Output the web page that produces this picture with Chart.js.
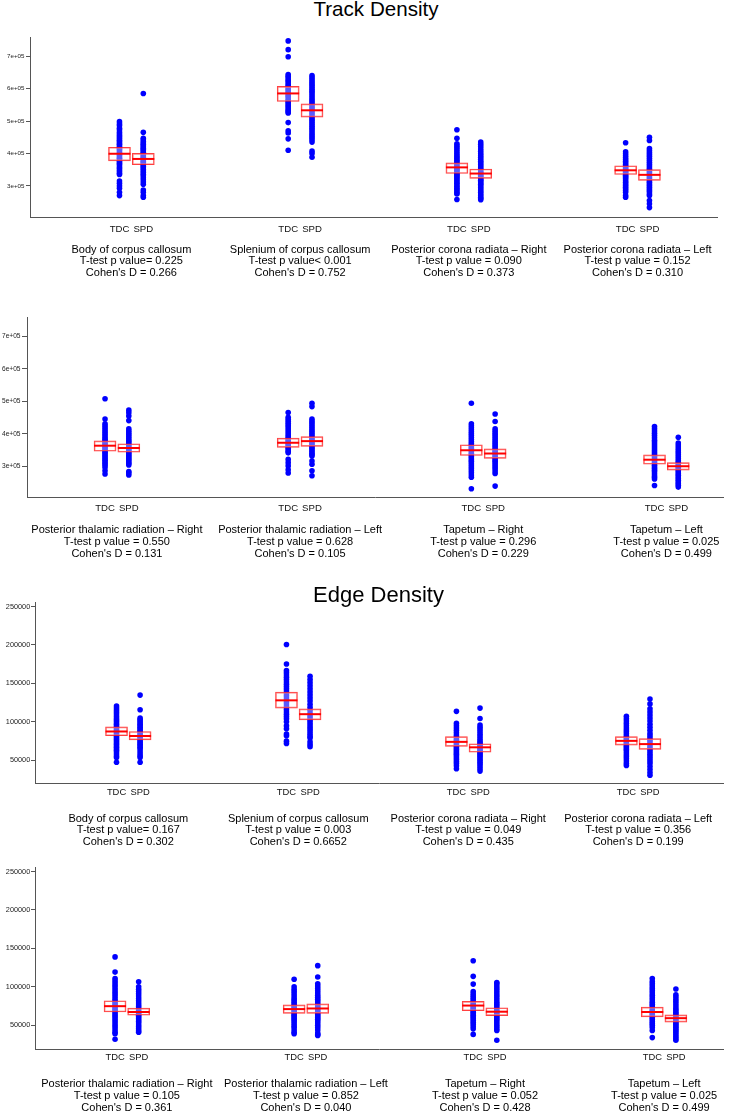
<!DOCTYPE html>
<html><head><meta charset="utf-8">
<script src="https://cdn.jsdelivr.net/npm/chart.js@4.4.1/dist/chart.umd.min.js"></script>
<style>
html,body{margin:0;padding:0;background:#fff;}
body{width:736px;height:1112px;position:relative;overflow:hidden;font-family:"Liberation Sans",Arial,Helvetica,sans-serif;}
canvas{position:absolute;left:0;}
.title{position:absolute;white-space:nowrap;color:#000;line-height:1;transform:translateX(-50%);z-index:2;}
.desc{position:absolute;white-space:nowrap;text-align:center;font-size:11px;color:#000;transform:translateX(-50%);z-index:2;}
</style></head><body>
<div class="title" style="left:376px;top:-0.7px;font-size:20.6px;">Track Density</div>
<div class="title" style="left:378.5px;top:584px;font-size:22px;">Edge Density</div>
<script>
// ---------------- DATA ----------------
const regions = ["Body of corpus callosum","Splenium of corpus callosum","Posterior corona radiata – Right","Posterior corona radiata – Left","Posterior thalamic radiation – Right","Posterior thalamic radiation – Left","Tapetum – Right","Tapetum – Left"];
const groupLabels = ["TDC","SPD"];

const trackPText = ["T-test p value= 0.225","T-test p value< 0.001","T-test p value = 0.090","T-test p value = 0.152","T-test p value = 0.550","T-test p value = 0.628","T-test p value = 0.296","T-test p value = 0.025"];
const trackDText = ["0.266","0.752","0.373","0.310","0.131","0.105","0.229","0.499"];
const edgePText = ["T-test p value= 0.167","T-test p value = 0.003","T-test p value = 0.049","T-test p value = 0.356","T-test p value = 0.105","T-test p value = 0.852","T-test p value = 0.052","T-test p value = 0.025"];
const edgeDText = ["0.302","0.6652","0.435","0.199","0.361","0.040","0.428","0.499"];

const trackTicks = [300e3,400e3,500e3,600e3,700e3];
const trackTickLabels = ["3e+05","4e+05","5e+05","6e+05","7e+05"];
const edgeTicks = [50000,100000,150000,200000,250000];
const edgeTickLabels = ["50000","100000","150000","200000","250000"];

const trackTDC = [
 [498e3,491e3,486e3,478e3,473e3,466e3,461e3,455e3,451e3,446e3,441e3,437e3,432e3,428e3,424e3,419e3,416e3,412e3,408e3,403e3,400e3,396e3,392e3,387e3,384e3,380e3,376e3,371e3,368e3,364e3,359e3,354e3,349e3,344e3,339e3,335e3,315e3,308e3,300e3,293e3,280e3,270e3],
 [747e3,720e3,698e3,643e3,638e3,633e3,627e3,623e3,618e3,612e3,608e3,603e3,598e3,593e3,588e3,583e3,578e3,574e3,568e3,563e3,558e3,553e3,548e3,543e3,538e3,533e3,528e3,525e3,495e3,470e3,463e3,445e3,410e3],
 [473e3,447e3,430e3,424e3,418e3,412e3,406e3,400e3,394e3,389e3,384e3,379e3,374e3,369e3,364e3,359e3,355e3,351e3,347e3,343e3,339e3,335e3,331e3,327e3,323e3,318e3,313e3,308e3,303e3,298e3,293e3,288e3,283e3,278e3,275e3,258e3],
 [433e3,405e3,399e3,393e3,387e3,381e3,376e3,371e3,366e3,361e3,357e3,353e3,349e3,345e3,341e3,337e3,333e3,329e3,325e3,321e3,316e3,311e3,306e3,301e3,296e3,291e3,286e3,280e3,270e3,265e3],
 [508e3,446e3,431e3,425e3,419e3,413e3,407e3,401e3,395e3,389e3,384e3,379e3,374e3,369e3,364e3,359e3,354e3,349e3,344e3,339e3,334e3,329e3,324e3,319e3,314e3,309e3,304e3,297e3,287e3,277e3],
 [466e3,451e3,445e3,439e3,433e3,427e3,421e3,415e3,409e3,403e3,397e3,391e3,386e3,381e3,376e3,371e3,366e3,361e3,356e3,351e3,346e3,342e3,322e3,312e3,302e3,290e3,280e3],
 [494e3,431e3,425e3,419e3,413e3,407e3,401e3,395e3,389e3,383e3,377e3,371e3,366e3,361e3,356e3,351e3,346e3,341e3,336e3,331e3,326e3,321e3,316e3,311e3,305e3,299e3,293e3,287e3,281e3,274e3,267e3,232e3],
 [423e3,416e3,409e3,402e3,395e3,388e3,381e3,375e3,369e3,363e3,357e3,351e3,345e3,339e3,334e3,329e3,324e3,319e3,314e3,309e3,304e3,299e3,294e3,289e3,284e3,278e3,272e3,267e3,262e3,242e3]
];
const trackSPD = [
 [585e3,465e3,447e3,442e3,437e3,432e3,428e3,424e3,420e3,416e3,412e3,408e3,404e3,400e3,396e3,392e3,388e3,384e3,380e3,376e3,372e3,368e3,364e3,360e3,356e3,351e3,346e3,341e3,336e3,331e3,325e3,319e3,312e3,305e3,287e3,280e3,270e3,265e3],
 [640e3,634e3,628e3,622e3,616e3,610e3,604e3,598e3,592e3,586e3,580e3,574e3,568e3,562e3,556e3,550e3,544e3,538e3,532e3,526e3,520e3,514e3,508e3,502e3,496e3,490e3,484e3,478e3,472e3,466e3,460e3,454e3,448e3,442e3,435e3,407e3,400e3,388e3],
 [435e3,428e3,421e3,414e3,407e3,400e3,394e3,388e3,382e3,376e3,371e3,366e3,361e3,356e3,351e3,346e3,341e3,337e3,333e3,329e3,325e3,321e3,317e3,313e3,309e3,305e3,300e3,295e3,290e3,285e3,280e3,275e3,270e3,265e3,261e3,257e3],
 [450e3,440e3,415e3,409e3,403e3,397e3,391e3,385e3,379e3,373e3,367e3,361e3,356e3,351e3,346e3,341e3,336e3,331e3,326e3,321e3,316e3,311e3,306e3,301e3,296e3,291e3,286e3,281e3,275e3,270e3,255e3,245e3,233e3],
 [473e3,465e3,455e3,441e3,416e3,410e3,404e3,398e3,392e3,386e3,380e3,375e3,370e3,365e3,360e3,355e3,350e3,345e3,340e3,335e3,330e3,325e3,320e3,315e3,310e3,305e3,285e3,280e3,274e3],
 [494e3,484e3,446e3,440e3,434e3,428e3,422e3,416e3,410e3,404e3,398e3,392e3,386e3,381e3,376e3,371e3,366e3,361e3,356e3,351e3,346e3,341e3,336e3,332e3,317e3,307e3,287e3,272e3],
 [461e3,438e3,416e3,410e3,404e3,398e3,392e3,386e3,380e3,374e3,368e3,362e3,356e3,351e3,346e3,341e3,336e3,331e3,326e3,321e3,316e3,311e3,305e3,299e3,293e3,286e3,279e3,240e3],
 [390e3,372e3,366e3,360e3,354e3,348e3,342e3,336e3,330e3,324e3,318e3,313e3,308e3,303e3,298e3,293e3,288e3,283e3,278e3,273e3,268e3,263e3,258e3,253e3,248e3,243e3,237e3]
];
const trackTDCMean = [399e3,585e3,357e3,348e3,364e3,373e3,350e3,321e3];
const trackTDCLow  = [377e3,560e3,338e3,335e3,347e3,359e3,334e3,307e3];
const trackTDCHigh = [419e3,607e3,371e3,362e3,379e3,387e3,367e3,336e3];
const trackSPDMean = [383e3,533e3,338e3,334e3,357e3,378e3,340e3,301e3];
const trackSPDLow  = [365e3,512e3,323e3,317e3,344e3,362e3,325e3,289e3];
const trackSPDHigh = [400e3,553e3,352e3,350e3,370e3,392e3,354e3,312e3];

const edgeTDC = [
 [120.5e3,118e3,115.5e3,113e3,110.5e3,108e3,105.5e3,103e3,101e3,99e3,97e3,95e3,93e3,91e3,89e3,87e3,85e3,83e3,81e3,79e3,77e3,75e3,73e3,71e3,69e3,67e3,65e3,63e3,61e3,58.5e3,56e3,53.8e3,47.5e3],
 [200.6e3,175.3e3,166.9e3,164e3,161e3,158e3,155e3,152e3,149e3,146e3,143e3,140e3,137e3,134e3,131e3,128e3,125e3,122e3,119e3,116e3,113e3,110e3,107e3,104e3,100.2e3,95e3,91e3,84.2e3,82e3,74.9e3,71.9e3],
 [113.7e3,98e3,95e3,92e3,89e3,86e3,83e3,80.5e3,78e3,76e3,74e3,72e3,70e3,68e3,66e3,64e3,62e3,60e3,58e3,56e3,53.5e3,51e3,48.5e3,46e3,43e3,39e3],
 [107.4e3,104e3,101e3,98e3,95e3,92e3,89.5e3,87e3,84.5e3,82e3,80e3,78e3,76e3,74e3,72e3,70e3,68e3,66e3,64e3,62e3,59.5e3,57e3,54.5e3,52e3,49e3,46e3,43.2e3],
 [139e3,119.2e3,110.8e3,108e3,105e3,102e3,99e3,96e3,93e3,90e3,87e3,84e3,81e3,78.5e3,76e3,73.5e3,71e3,68.5e3,66e3,63.5e3,61e3,58.5e3,56e3,53e3,50e3,47e3,44e3,41e3,39e3,31.9e3],
 [109.9e3,100e3,97e3,94e3,91e3,88e3,85e3,82.5e3,80e3,77.5e3,75e3,73e3,71e3,69e3,67e3,65e3,63e3,61e3,59e3,57e3,54.5e3,52e3,49.5e3,47e3,44e3,41e3,39e3],
 [134e3,113.7e3,103.6e3,93.9e3,91e3,88.5e3,86e3,83.5e3,81e3,79e3,77e3,75e3,73e3,71e3,69e3,67e3,65e3,63e3,61e3,59e3,56.5e3,54e3,51.5e3,48.5e3,45.4e3,38.2e3],
 [110.8e3,107e3,104e3,101e3,98e3,95e3,92e3,89e3,86e3,83e3,80e3,77.5e3,75e3,72.5e3,70e3,68e3,66e3,64e3,62e3,60e3,57.5e3,55e3,52.5e3,50e3,47e3,43.2e3,34e3]
];
const edgeSPD = [
 [134.8e3,115.8e3,105e3,103e3,101e3,99e3,97e3,95e3,93e3,91e3,89e3,87e3,85e3,83e3,81e3,79e3,77e3,75e3,73e3,71e3,69e3,67e3,65e3,62e3,59e3,55.9e3,53.8e3,47.5e3],
 [159.3e3,155e3,151e3,147e3,143e3,139e3,135e3,131e3,127e3,123e3,119e3,115e3,111e3,108e3,105e3,102e3,99e3,96e3,93e3,90e3,87e3,84e3,81e3,79e3,74e3,70.7e3,67.7e3],
 [117.9e3,104.4e3,96e3,93e3,90e3,87e3,84e3,81e3,78e3,75.5e3,73e3,71e3,69e3,67e3,65e3,63e3,61e3,59e3,57e3,55e3,52.5e3,50e3,47.5e3,45e3,42e3,39e3,36e3],
 [129.7e3,123.4e3,117e3,113e3,109e3,105e3,101e3,97e3,93e3,89e3,85e3,82e3,79e3,76e3,73e3,70e3,67e3,64e3,61e3,58e3,55e3,52e3,49e3,46e3,42e3,38e3,34e3,30.6e3],
 [106.5e3,100.2e3,97e3,94e3,91e3,88e3,85e3,82e3,79e3,76.5e3,74e3,71.5e3,69e3,67e3,65e3,63e3,61e3,59e3,57e3,55e3,53e3,50.5e3,48e3,45.5e3,43e3,41.1e3],
 [127.6e3,112.9e3,104e3,101e3,98e3,95e3,92e3,89e3,86.5e3,84e3,81.5e3,79e3,76.5e3,74e3,72e3,70e3,68e3,66e3,64e3,62e3,60e3,58e3,55.5e3,53e3,50e3,47e3,44e3,40e3,38e3,36.9e3],
 [105.7e3,104e3,101e3,98e3,95e3,92e3,89e3,86e3,83e3,80e3,77.5e3,75e3,72.5e3,70e3,68e3,66e3,64e3,62e3,60e3,58e3,55.5e3,53e3,50.5e3,48e3,45.5e3,43.2e3,30.6e3],
 [97.3e3,89.7e3,87e3,84e3,81e3,78e3,75e3,72e3,69.5e3,67e3,65e3,63e3,61e3,59e3,57e3,55e3,53e3,51e3,49e3,47e3,45e3,43e3,40.5e3,38e3,35.5e3,33e3,30.6e3]
];
const edgeTDCMean = [87.5e3,128e3,74e3,75.3e3,74.9e3,71.1e3,75.7e3,67.3e3];
const edgeTDCLow  = [82e3,117.9e3,68.1e3,69.8e3,67.3e3,65.6e3,69e3,61e3];
const edgeTDCHigh = [93.5e3,138.6e3,80.8e3,80.8e3,82e3,76.6e3,81.2e3,73.6e3];
const edgeSPDMean = [81.6e3,110e3,66.9e3,71.1e3,67.3e3,71.9e3,67.7e3,59.3e3];
const edgeSPDLow  = [76.6e3,102.7e3,60.5e3,64.3e3,63.1e3,65.6e3,62.7e3,54.2e3];
const edgeSPDHigh = [87.5e3,117e3,71.5e3,78.3e3,72.4e3,77.8e3,72.8e3,63.5e3];

// ---------------- LAYOUT ----------------
const FONT = '"Liberation Sans", Arial, Helvetica, sans-serif';
const trackSeries = {tdc:trackTDC, spd:trackSPD, tdcMean:trackTDCMean, tdcLow:trackTDCLow, tdcHigh:trackTDCHigh, spdMean:trackSPDMean, spdLow:trackSPDLow, spdHigh:trackSPDHigh, pText:trackPText, dText:trackDText, ticks:trackTicks, tickLabels:trackTickLabels};
const edgeSeries = {tdc:edgeTDC, spd:edgeSPD, tdcMean:edgeTDCMean, tdcLow:edgeTDCLow, tdcHigh:edgeTDCHigh, spdMean:edgeSPDMean, spdLow:edgeSPDLow, spdHigh:edgeSPDHigh, pText:edgePText, dText:edgeDText, ticks:edgeTicks, tickLabels:edgeTickLabels};

const panels = [
 {S:trackSeries, first:0, top:24, w:730, h:223, padTop:8, padRight:8, yW:30, xMin:-0.601, xMax:3.471, off:0.0706, yMin:204e3, yMax:759e3, tickFont:6.2, tickLen:4, tickPad:1.5, xFont:9.6, xPad:6.5, descTop:243.5, descLH:11.8},
 {S:trackSeries, first:4, top:304, w:736, h:223, padTop:8, padRight:6, yW:27, xMin:-0.491, xMax:3.309, off:0.0649, yMin:206.6e3, yMax:758.8e3, tickFont:6.6, tickLen:5, tickPad:1.5, xFont:9.6, xPad:5.2, descTop:522.5, descLH:12},
 {S:edgeSeries, first:0, top:589, w:736, h:224, padTop:8, padRight:1, yW:35, xMin:-0.549, xMax:3.499, off:0.0694, yMin:20.5e3, yMax:255.9e3, tickFont:7.3, tickLen:4, tickPad:0.8, xFont:9.4, xPad:3.9, descTop:812.5, descLH:11.7},
 {S:edgeSeries, first:4, top:854, w:736, h:225, padTop:8, padRight:1, yW:35, xMin:-0.513, xMax:3.329, off:0.0659, yMin:19.2e3, yMax:255.9e3, tickFont:7.3, tickLen:4, tickPad:0.8, xFont:9.4, xPad:2.6, descTop:1076.9, descLH:12}
];

function buildPanel(p){
  const S = p.S;
  const cv = document.createElement('canvas');
  cv.width = p.w; cv.height = p.h;
  cv.style.top = p.top + 'px'; cv.style.width = p.w + 'px'; cv.style.height = p.h + 'px';
  document.body.appendChild(cv);
  const pts = [], boxes = [], means = [], xTicks = [];
  for (let g = 0; g < 4; g++) {
    const r = p.first + g;
    const xa = g - p.off, xb = g + p.off;
    xTicks.push(xa, xb);
    S.tdc[r].forEach(v => pts.push({x:xa, y:v}));
    S.spd[r].forEach(v => pts.push({x:xb, y:v}));
    boxes.push({x:xa, y:[S.tdcLow[r], S.tdcHigh[r]]});
    boxes.push({x:xb, y:[S.spdLow[r], S.spdHigh[r]]});
    means.push({x:xa, y:S.tdcMean[r]});
    means.push({x:xb, y:S.spdMean[r]});
  }
  const chart = new Chart(cv, {
    type:'scatter',
    data:{datasets:[
      {type:'scatter', data:pts, order:3, pointRadius:2.8, pointHoverRadius:2.8, pointBackgroundColor:'#0000ff', pointBorderWidth:0},
      {type:'bar', data:boxes, order:2, barThickness:22, grouped:false, backgroundColor:'rgba(255,255,255,0.35)', borderColor:'rgba(255,30,30,0.85)', borderWidth:1, borderSkipped:false},
      {type:'scatter', data:means, order:1, pointStyle:'line', pointRadius:11, pointHoverRadius:11, pointBorderColor:'#ff0000', pointBorderWidth:2}
    ]},
    options:{
      responsive:false, animation:false, devicePixelRatio:1, events:[],
      layout:{padding:{top:p.padTop, right:p.padRight, left:0, bottom:0}},
      plugins:{legend:{display:false}, tooltip:{enabled:false}, title:{display:false}},
      scales:{
        x:{type:'linear', min:p.xMin, max:p.xMax, bounds:'data', offset:false,
           grid:{display:false, drawTicks:false, offset:false},
           border:{display:true, color:'#555', width:1},
           afterBuildTicks: s => { s.ticks = xTicks.map(v => ({value:v})); },
           ticks:{autoSkip:false, maxRotation:0, minRotation:0, padding:p.xPad, color:'#111', font:{family:FONT, size:p.xFont}, callback:(v, i) => groupLabels[i % 2]},
           afterFit: s => { s.height = 30; }
        },
        y:{type:'linear', min:p.yMin, max:p.yMax, bounds:'data', beginAtZero:false,
           grid:{display:true, drawOnChartArea:false, drawTicks:true, tickLength:p.tickLen, color:'#555', lineWidth:1},
           border:{display:true, color:'#555', width:1},
           afterBuildTicks: s => { s.ticks = S.ticks.map(v => ({value:v})); },
           ticks:{autoSkip:false, padding:p.tickPad, color:'#222', font:{family:FONT, size:p.tickFont}, callback:(v, i) => S.tickLabels[i]},
           afterFit: s => { s.width = p.yW; }
        }
      }
    }
  });
  for (let g = 0; g < 4; g++) {
    const r = p.first + g;
    const cx = chart.scales.x.getPixelForValue(g);
    const d = document.createElement('div');
    d.className = 'desc';
    d.style.left = cx + 'px';
    d.style.top = p.descTop + 'px';
    d.style.lineHeight = p.descLH + 'px';
    [regions[r], S.pText[r], "Cohen's D = " + S.dText[r]].forEach(t => {
      const line = document.createElement('div');
      line.textContent = t;
      d.appendChild(line);
    });
    document.body.appendChild(d);
  }
}
panels.forEach(buildPanel);
</script>
</body></html>
